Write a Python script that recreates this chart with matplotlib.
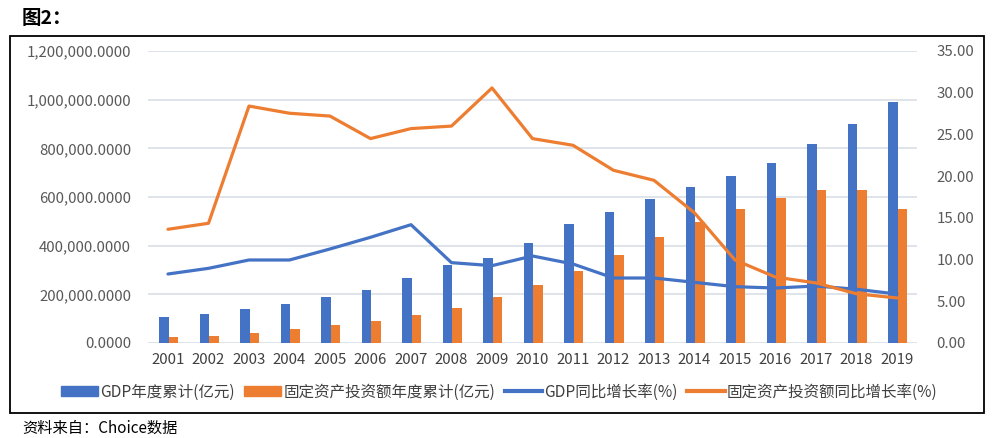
import matplotlib
matplotlib.use("Agg")
import matplotlib.pyplot as plt
from matplotlib.patches import Rectangle
from matplotlib.lines import Line2D
from matplotlib.ticker import FuncFormatter, MultipleLocator
import numpy as np

plt.rcParams['font.family'] = ['Noto Sans CJK SC', 'DejaVu Sans']

years = ['2001', '2002', '2003', '2004', '2005', '2006', '2007', '2008', '2009', '2010',
         '2011', '2012', '2013', '2014', '2015', '2016', '2017', '2018', '2019']
gdp_total = [108000, 119000, 138000, 160000, 189000, 218000, 268000, 320000, 349000, 412000,
             488000, 538000, 590000, 641000, 687000, 738000, 819000, 900000, 991000]
fai_total = [23000, 29000, 40000, 57000, 74000, 90000, 114000, 142000, 189000, 240000,
             297000, 360000, 436000, 497000, 549000, 596000, 630000, 630000, 549000]
gdp_growth = [8.27, 8.95, 9.95, 9.95, 11.27, 12.67, 14.18, 9.63, 9.27, 10.43,
              9.47, 7.79, 7.79, 7.27, 6.75, 6.59, 6.83, 6.44, 5.87]
fai_growth = [13.63, 14.35, 28.4, 27.54, 27.2, 24.5, 25.7, 26.0, 30.57, 24.5,
              23.7, 20.7, 19.5, 15.6, 9.95, 7.9, 7.2, 5.9, 5.4]

labels = ['GDP年度累计(亿元)', '固定资产投资额年度累计(亿元)', 'GDP同比增长率(%)', '固定资产投资额同比增长率(%)']
blue = '#4472C4'
orange = '#ED7D31'
tick_color = '#595959'
grid_color = '#D9DEE6'

W, H = 992, 438
fig = plt.figure(figsize=(W / 100, H / 100), dpi=100)

# outer frame
fig.patches.append(Rectangle((10 / W, 1 - 413 / H), 974 / W, 377 / H, transform=fig.transFigure,
                             fill=False, edgecolor='black', linewidth=1.3))

left, right = 147.75 / W, 917.25 / W
bottom, top = 1 - 343 / H, 1 - 51 / H
ax = fig.add_axes([left, bottom, right - left, top - bottom])
ax2 = ax.twinx()

x = np.arange(len(years))
bw = 0.235
ax.bar(x - bw / 2 + 0.02, gdp_total, width=bw, color=blue, zorder=2)
ax.bar(x + bw / 2 + 0.02, fai_total, width=bw, color=orange, zorder=2)

ax2.plot(x, gdp_growth, color=blue, linewidth=2.3, solid_capstyle='round', zorder=3)
ax2.plot(x, fai_growth, color=orange, linewidth=2.3, solid_capstyle='round', zorder=3)

ax.set_xlim(-0.5, len(years) - 0.5)
ax.set_ylim(0, 1200000)
ax2.set_ylim(0, 35)
ax.yaxis.set_major_locator(MultipleLocator(200000))
ax2.yaxis.set_major_locator(MultipleLocator(5))
ax.yaxis.set_major_formatter(FuncFormatter(lambda v, p: f'{v:,.4f}'))
ax2.yaxis.set_major_formatter(FuncFormatter(lambda v, p: f'{v:.2f}'))
ax.set_xticks(x)
ax.set_xticklabels(years)

ax.grid(axis='y', color=grid_color, linewidth=1.2, zorder=0)
ax.set_axisbelow(True)
for a in (ax, ax2):
    for s in a.spines.values():
        s.set_visible(False)
    a.tick_params(length=0, colors=tick_color, labelsize=10.8)
ax.tick_params(axis='y', pad=12)
ax2.tick_params(axis='y', pad=14)
ax.tick_params(axis='x', pad=7, colors='#404040')

handles = [Rectangle((0, 0), 1, 1, color=blue), Rectangle((0, 0), 1, 1, color=orange),
           Line2D([], [], color=blue, linewidth=3), Line2D([], [], color=orange, linewidth=3)]
fig.legend(handles, labels, loc='center', bbox_to_anchor=(499 / W, 1 - 392 / H), ncol=4,
           frameon=False, fontsize=11.2, handlelength=2.4, handleheight=0.6, handletextpad=0.15,
           columnspacing=0.6, labelcolor='#404040')

fig.text(22 / W, 1 - 18 / H, '图2：', fontsize=14, fontweight='bold', va='center', ha='left')
fig.text(22 / W, 1 - 428 / H, '资料来自：Choice数据', fontsize=11, va='center', ha='left')

fig.savefig('out.png', dpi=100)
